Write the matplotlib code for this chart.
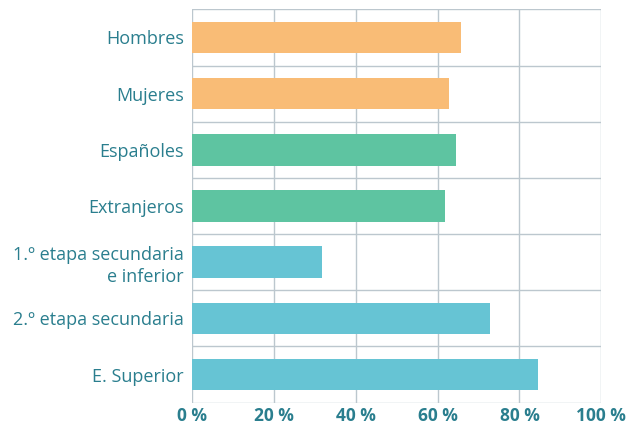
import numpy as np
import matplotlib.pyplot as plt
from matplotlib.ticker import FixedLocator

categories = ["Hombres", "Mujeres", "Españoles", "Extranjeros",
              "1.º etapa secundaria\ne inferior", "2.º etapa secundaria", "E. Superior"]
values = [65.7, 62.8, 64.5, 61.8, 31.7, 72.8, 84.5]
colors = ["#F9BC76", "#F9BC76", "#5EC4A1", "#5EC4A1", "#66C4D4", "#66C4D4", "#66C4D4"]
xticks = [0, 20, 40, 60, 80, 100]

text_color = "#2A7E8E"
grid_color = "#BCC7CE"

plt.rcParams['font.family'] = ['Open Sans', 'DejaVu Sans']

fig = plt.figure(figsize=(6.26, 4.25), dpi=100)
ax = fig.add_axes([0.307, 0.0525, 0.6535, 0.9255])

y = np.arange(len(categories))
ax.barh(y, values, height=0.56, color=colors, zorder=3)

ax.set_xlim(0, 100)
ax.set_ylim(len(categories) - 0.5, -0.5)

ax.set_xticks(xticks)
ax.set_xticklabels([f"{t} %" for t in xticks], fontsize=12.5, fontweight='bold', color=text_color)
ax.set_yticks(y)
ax.set_yticklabels(categories, fontsize=13, color=text_color, linespacing=1.28)
ax.yaxis.set_minor_locator(FixedLocator(np.arange(len(categories) + 1) - 0.5))

ax.tick_params(axis='both', which='both', length=0)
ax.tick_params(axis='x', pad=3)
ax.tick_params(axis='y', pad=6)

ax.grid(axis='x', which='major', color=grid_color, linewidth=1, zorder=0)
ax.grid(axis='y', which='minor', color=grid_color, linewidth=1, zorder=0)
ax.set_axisbelow(True)
for s in ax.spines.values():
    s.set_visible(False)

for lab in ax.get_yticklabels():
    lab.set_horizontalalignment('right')
    lab.set_multialignment('right')

fig.savefig("out.png", dpi=100)
